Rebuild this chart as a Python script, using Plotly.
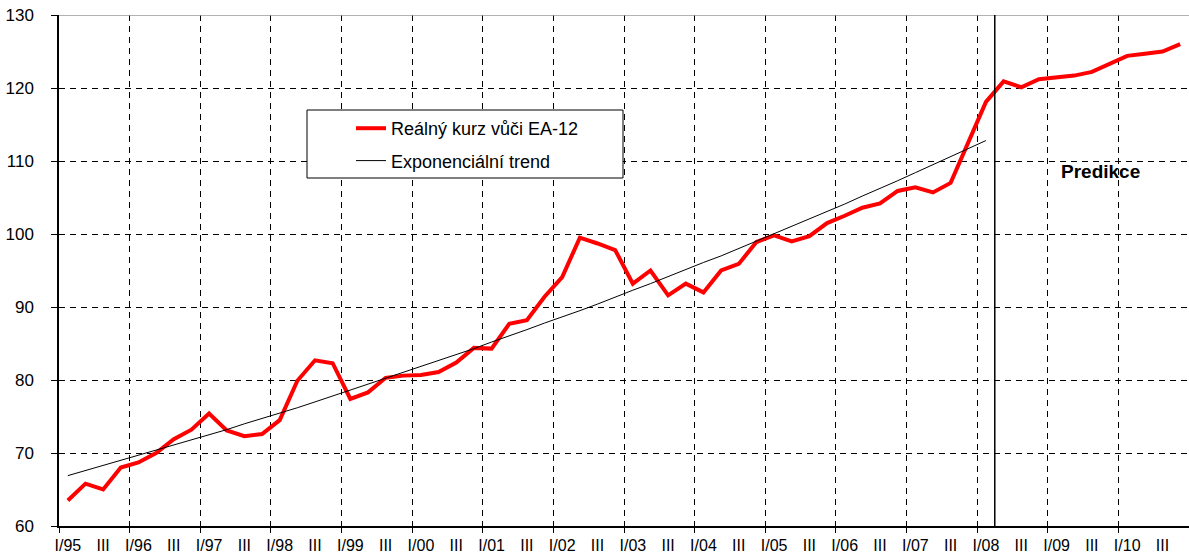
import plotly.graph_objects as go

# Quarterly categories 1995Q1 .. 2010Q4
years = list(range(1995, 2011))
quarter_labels = []
for y in years:
    quarter_labels += [f"I/{str(y)[2:]}", "II", "III", "IV"]

real_rate = [
    63.5, 65.8, 65.0, 68.0, 68.7, 70.0, 71.9, 73.2,
    75.4, 73.1, 72.3, 72.6, 74.5, 79.9, 82.7, 82.3,
    77.4, 78.3, 80.3, 80.6, 80.7, 81.1, 82.4, 84.4,
    84.3, 87.7, 88.2, 91.4, 94.1, 99.5, 98.7, 97.8,
    93.2, 95.0, 91.6, 93.2, 92.0, 95.0, 95.9, 98.9,
    99.8, 99.0, 99.7, 101.5, 102.5, 103.6, 104.2, 105.9,
    106.4, 105.7, 107.0, 112.4, 118.1, 120.9, 120.1, 121.2,
    121.4, 121.7, 122.2, 123.3, 124.4, 124.7, 125.0, 126.0,
]

exp_trend = [
    66.9, 67.6, 68.3, 69.0, 69.6, 70.4, 71.1, 71.8,
    72.5, 73.2, 74.0, 74.7, 75.5, 76.2, 77.0, 77.8,
    78.6, 79.4, 80.2, 81.0, 81.8, 82.6, 83.5, 84.3,
    85.2, 86.0, 86.9, 87.8, 88.6, 89.5, 90.4, 91.4,
    92.3, 93.2, 94.2, 95.1, 96.1, 97.0, 98.0, 99.0,
    100.0, 101.0, 102.0, 103.1, 104.1, 105.2, 106.2, 107.3,
    108.4, 109.5, 110.6, 111.7, 112.8,
]

x_idx = list(range(len(quarter_labels)))
label_idx = x_idx[::2]
label_txt = [quarter_labels[i] for i in label_idx]

FONT = "Liberation Sans, Arial, sans-serif"

fig = go.Figure()
fig.add_trace(go.Scatter(
    x=x_idx, y=real_rate, mode="lines", name="Reálný kurz vůči EA-12",
    line=dict(color="#ff0000", width=4), legendgroup="a",
))
fig.add_trace(go.Scatter(
    x=x_idx[:len(exp_trend)], y=exp_trend, mode="lines", name="Exponenciální trend",
    line=dict(color="#000000", width=1), legendgroup="b",
))

# legend frame
fig.add_shape(type="rect", xref="paper", yref="paper",
              x0=(307 - 59) / 1130, x1=(623 - 59) / 1130,
              y0=(526 - 178) / 511, y1=(526 - 110) / 511,
              line=dict(color="black", width=1), fillcolor="white", layer="above")
# top border
fig.add_shape(type="line", xref="paper", yref="y", x0=0, x1=1, y0=130, y1=130,
              line=dict(color="#999999", width=1.5))
# forecast separator
fig.add_shape(type="line", xref="x", yref="y", x0=52.5, x1=52.5, y0=60, y1=130,
              line=dict(color="black", width=1.5))

fig.add_annotation(x=58.5, y=108.6, xref="x", yref="y", text="<b>Predikce</b>",
                   showarrow=False, font=dict(family=FONT, size=19, color="black"))

fig.update_layout(
    width=1189, height=558,
    margin=dict(l=59, r=0, t=15, b=32),
    paper_bgcolor="white", plot_bgcolor="white",
    font=dict(family=FONT, color="black"),
    showlegend=True,
    legend=dict(x=(351 - 59) / 1130, y=(526 - 110) / 511, xanchor="left", yanchor="top",
                bgcolor="rgba(0,0,0,0)", borderwidth=0, tracegroupgap=6,
                font=dict(family=FONT, size=18, color="black")),
    xaxis=dict(
        range=[-0.5, 63.5], tickmode="array", tickvals=label_idx, ticktext=label_txt,
        ticks="", showgrid=False, zeroline=False, automargin=False,
        showline=True, linecolor="black", linewidth=1.5,
        tickfont=dict(family=FONT, size=16, color="black"),
        ticklabelstandoff=4,
        minor=dict(tickmode="linear", tick0=-0.5, dtick=4, ticks="outside", ticklen=5,
                   tickcolor="black", showgrid=True, gridcolor="black", gridwidth=1,
                   griddash="6px,5px"),
    ),
    yaxis=dict(
        range=[60, 130], tickmode="linear", tick0=60, dtick=10,
        ticks="outside", ticklen=6, tickcolor="black", automargin=False,
        showgrid=True, gridcolor="black", gridwidth=1, griddash="6px,5px",
        zeroline=False, showline=True, linecolor="black", linewidth=1.5,
        tickfont=dict(family=FONT, size=17, color="black"),
        ticklabelstandoff=14,
    ),
)

fig.write_html("out.html", config={"displayModeBar": False},
               post_script="document.body.style.margin='0';document.body.style.overflow='hidden';")
